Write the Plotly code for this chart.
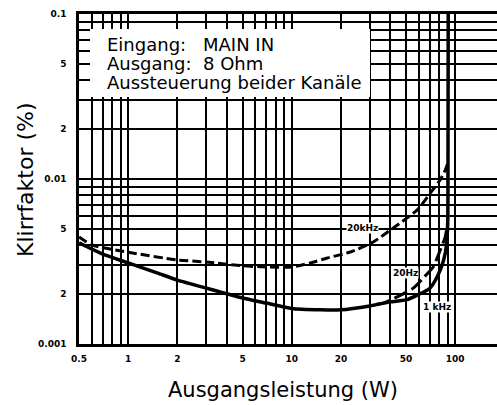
import numpy as np
import plotly.graph_objects as go

# ---- data ----
p_1khz = [0.5, 0.7, 1, 1.5, 2, 3, 5, 7, 10, 15, 20, 30, 40, 50, 60, 70, 78, 85, 88.5, 90, 90.3, 90.6]
thd_1khz = [0.0041, 0.0035, 0.0031, 0.0027, 0.00244, 0.00218, 0.0019, 0.00177, 0.00164, 0.00161,
            0.00161, 0.0017, 0.0018, 0.00185, 0.002, 0.00218, 0.00258, 0.00323, 0.004, 0.0055, 0.01, 0.1]

p_20khz = [0.5, 0.6, 1, 2, 3, 5, 7, 10, 13, 16.5, 22.8, 31.5, 41.8, 58.6, 70.3, 81, 86.8, 90]
thd_20khz = [0.00445, 0.00398, 0.0036, 0.00323, 0.00314, 0.00298, 0.00293, 0.00293, 0.0031, 0.00332,
             0.00361, 0.00415, 0.00505, 0.0065, 0.0082, 0.0099, 0.0113, 0.0125]

p_20hz = [33, 36.3, 44.2, 55.4, 63.7, 73.3, 81, 86.8, 89.5]
thd_20hz = [0.00174, 0.00177, 0.00193, 0.00218, 0.00251, 0.00293, 0.00371, 0.00445, 0.0053]

curve_labels = ["20kHz", "20Hz", "1 kHz"]
label_p = [27, 49.5, 77.6]
label_thd = [0.00505, 0.00269, 0.00168]

x_tickvals = [0.5, 0.6, 0.7, 0.8, 0.9, 1, 2, 3, 4, 5, 6, 7, 8, 9,
              10, 20, 30, 40, 50, 60, 70, 80, 90, 100]
x_ticktext = ["0.5", "", "", "", "", "1", "2", "", "", "5", "", "", "", "",
              "10", "20", "", "", "50", "", "", "", "", "100"]
y_tickvals = [0.001, 0.002, 0.003, 0.004, 0.005, 0.006, 0.007, 0.008, 0.009,
              0.01, 0.02, 0.03, 0.04, 0.05, 0.06, 0.07, 0.08, 0.09, 0.1]
y_ticktext = ["0.001", "2", "", "", "5", "", "", "", "",
              "0.01", "2", "", "", "5", "", "", "", "", "0.1"]

info_left = ["Eingang:", "Ausgang:", "Aussteuerung beider Kanäle"]
info_right = ["MAIN IN", "8 Ohm", ""]

FONT = "DejaVu Sans"
W, H = 497, 405
L, R, T, B = 79, 0, 14, 61
PW, PH = W - L - R, H - T - B


def px(xp):
    return (xp - L) / PW


def py(yp):
    return (H - B - yp) / PH


fig = go.Figure()
fig.add_trace(go.Scatter(x=p_1khz, y=thd_1khz, mode="lines",
                         line=dict(color="black", width=3.5, shape="spline", smoothing=0.6),
                         hoverinfo="skip", showlegend=False))
fig.add_trace(go.Scatter(x=p_20khz, y=thd_20khz, mode="lines",
                         line=dict(color="black", width=3, dash="9px,4px", shape="spline", smoothing=0.6),
                         hoverinfo="skip", showlegend=False))
fig.add_trace(go.Scatter(x=p_20hz, y=thd_20hz, mode="lines",
                         line=dict(color="black", width=3, dash="14px,5px", shape="spline", smoothing=0.6),
                         hoverinfo="skip", showlegend=False))

annotations = []
for t, xv, yv in zip(curve_labels, label_p, label_thd):
    annotations.append(dict(x=np.log10(xv), y=np.log10(yv), xref="x", yref="y", text=t,
                            showarrow=False, bgcolor="white", borderpad=0,
                            font=dict(family=FONT, size=9, color="black", weight="bold")))

line_y = [44, 64, 82]
for t1, t2, yy in zip(info_left, info_right, line_y):
    annotations.append(dict(x=px(105), y=py(yy), xref="paper", yref="paper", text=t1,
                            showarrow=False, xanchor="left", yanchor="middle",
                            font=dict(family=FONT, size=18, color="black")))
    if t2:
        annotations.append(dict(x=px(201), y=py(yy), xref="paper", yref="paper", text=t2,
                                showarrow=False, xanchor="left", yanchor="middle",
                                font=dict(family=FONT, size=18, color="black")))

annotations.append(dict(x=px(25), y=py(180), xref="paper", yref="paper", text="Klirrfaktor (%)",
                        showarrow=False, textangle=-90, xanchor="center", yanchor="middle",
                        font=dict(family=FONT, size=22, color="black")))
annotations.append(dict(x=px(283), y=py(390), xref="paper", yref="paper", text="Ausgangsleistung (W)",
                        showarrow=False, xanchor="center", yanchor="middle",
                        font=dict(family=FONT, size=21, color="black")))

shapes = [dict(type="rect", xref="paper", yref="paper", x0=px(90), x1=px(370), y0=py(97), y1=py(29),
               fillcolor="white", line=dict(width=0), layer="above")]

fig.update_layout(
    width=W, height=H, margin=dict(l=L, r=R, t=T, b=B),
    paper_bgcolor="white", plot_bgcolor="white",
    annotations=annotations, shapes=shapes,
    xaxis=dict(type="log", range=[np.log10(0.5), np.log10(0.5) + (W - L) / 163.5],
               tickvals=x_tickvals, ticktext=x_ticktext,
               showgrid=True, gridcolor="black", gridwidth=1.6,
               showline=True, linecolor="black", linewidth=2.5, mirror=True,
               ticks="outside", ticklen=4, tickcolor="rgba(0,0,0,0)",
               tickfont=dict(family=FONT, size=9, color="black", weight="bold"),
               zeroline=False, fixedrange=True),
    yaxis=dict(type="log", range=[-3, -1],
               tickvals=y_tickvals, ticktext=y_ticktext,
               showgrid=True, gridcolor="black", gridwidth=1.6,
               showline=True, linecolor="black", linewidth=2.5,
               ticks="outside", ticklen=8, tickcolor="rgba(0,0,0,0)",
               tickfont=dict(family=FONT, size=9, color="black", weight="bold"),
               zeroline=False, fixedrange=True),
)

fig.write_html("out.html", config={"displayModeBar": False},
               post_script="document.body.style.margin='0px';document.body.style.overflow='hidden';")
